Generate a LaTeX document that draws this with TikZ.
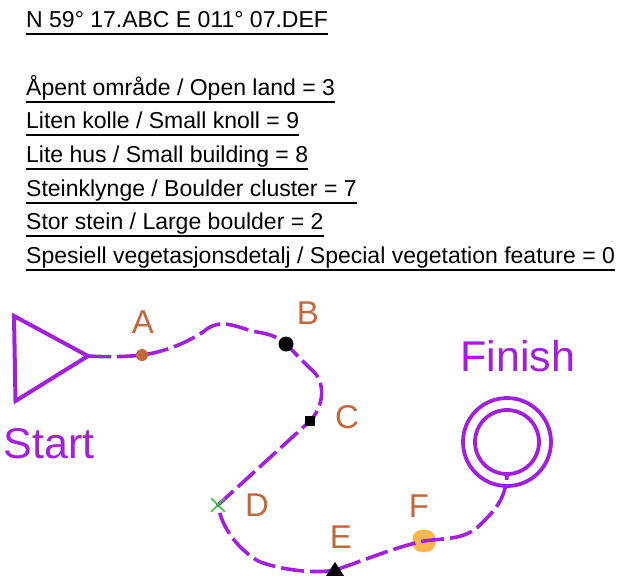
\documentclass[tikz,border=0pt]{standalone}
\usepackage{fontspec}
\setmainfont{Liberation Sans}
\usepackage{tikz}
\usetikzlibrary{positioning, arrows.meta, calc, shapes.geometric, shapes.misc}
\definecolor{legpurple}{HTML}{A31FDF}
\definecolor{legbrown}{HTML}{C2693C}
\definecolor{legorange}{HTML}{F9B64C}
\definecolor{leggreen}{HTML}{3FC23F}

\begin{document}
\begin{tikzpicture}[
  x=1pt, y=-1pt,
  cluetext/.style={anchor=base west, inner sep=0pt, text depth=6.5pt, font=\fontsize{23}{26}\selectfont},
  rule/.style={line width=1.8pt},
  leg/.style={draw=legpurple, line width=3.6pt, dash pattern=on 23pt off 6pt},
  ring/.style={draw=legpurple, line width=3.8pt, circle, inner sep=0pt},
  letter/.style={text=legbrown, inner sep=0pt, font=\fontsize{33}{36}\selectfont},
  bigword/.style={text=legpurple, inner sep=0pt, font=\fontsize{43}{48}\selectfont},
  blackmark/.style={inner sep=0pt, fill=black}
]
\useasboundingbox (0,0) rectangle (640,582);
\fill[white] (0,0) rectangle (640,582);
% clue lines
\node[cluetext] (h0) at (26,27) {N 59° 17.ABC E 011° 07.DEF};
\node[cluetext] (h1) at (26,95) {Åpent område / Open land = 3};
\node[cluetext] (h2) at (26,128) {Liten kolle / Small knoll = 9};
\node[cluetext] (h3) at (26,162) {Lite hus / Small building = 8};
\node[cluetext] (h4) at (26,196) {Steinklynge / Boulder cluster = 7};
\node[cluetext] (h5) at (26,229) {Stor stein / Large boulder = 2};
\node[cluetext] (h6) at (26,263) {Spesiell vegetasjonsdetalj / Special vegetation feature = 0};
\draw[rule] (h0.south west) -- (h0.south east);
\draw[rule] (h1.south west) -- (h1.south east);
\draw[rule] (h2.south west) -- (h2.south east);
\draw[rule] (h3.south west) -- (h3.south east);
\draw[rule] (h4.south west) -- (h4.south east);
\draw[rule] (h5.south west) -- (h5.south east);
\draw[rule] (h6.south west) -- (h6.south east);
% start and finish
\coordinate (tipS) at (88,356);
\draw[draw=legpurple, line width=4pt, miter limit=6] (14,316) -- (15.5,401) -- (tipS) -- cycle;
\node[bigword] (startlab) at (49,444) {Start};
\node[bigword] (finishlab) at (518,356) {Finish};
\node[ring, minimum size=88pt] (ringO) at (507,442) {};
\node[ring, minimum size=64pt] (ringI) at (507,442) {};
% waypoints
\node[rectangle, rounded corners=9pt, fill=legorange, minimum width=23pt, minimum height=22pt, inner sep=0pt] (ptF) at (424,541) {};
\coordinate (ptA) at (142,355);
\coordinate (ptB) at (286,344);
\coordinate (ptC) at (310,421);
\coordinate (ptD) at (218,505);
\coordinate (ptE) at (335,570);
\draw[leg] (tipS) .. controls (105,357) and (125,357) .. (ptA)
  .. controls (165,352) and (188,342) .. (203,332)
  .. controls (210,326) and (216,324) .. (222,324)
  .. controls (235,324) and (245,330) .. (257,332)
  .. controls (270,334) and (278,337) .. (ptB)
  .. controls (297,355) and (303,362) .. (313,371)
  .. controls (325,382) and (325,405) .. (ptC)
  -- (ptD)
  .. controls (222,530) and (240,550) .. (258,561)
  .. controls (280,570) and (315,574) .. (ptE)
  .. controls (360,562) and (395,547) .. (ptF.center)
  .. controls (445,538) and (465,540) .. (480,525)
  .. controls (495,510) and (505,500) .. (ringI.south);
\node[circle, fill=legbrown, minimum size=12pt, inner sep=0pt] (dotA) at (ptA) {};
\node[blackmark, circle, minimum size=15pt] (dotB) at (ptB) {};
\node[blackmark, minimum size=10pt] (dotC) at (ptC) {};
\node[cross out, draw=leggreen, line width=1.5pt, minimum size=12pt, inner sep=0pt] (dotD) at (ptD) {};
\node[blackmark, isosceles triangle, isosceles triangle apex angle=65, shape border rotate=90, minimum size=14pt] (dotE) at (335,571) {};
% letters
\node[letter] (labA) at (143,322) {A};
\node[letter] (labB) at (308,313) {B};
\node[letter] (labC) at (347,417) {C};
\node[letter] (labD) at (257,505) {D};
\node[letter] (labE) at (341,537) {E};
\node[letter] (labF) at (419,506) {F};
\end{tikzpicture}
\end{document}
